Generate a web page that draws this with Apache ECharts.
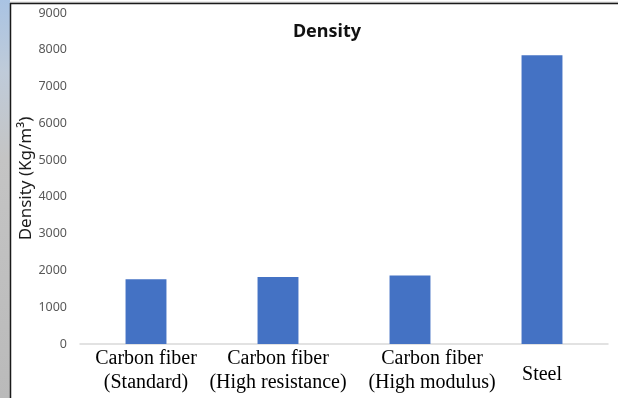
<!DOCTYPE html>
<html>
<head>
<meta charset="utf-8">
<script src="https://cdn.jsdelivr.net/npm/echarts@6/dist/echarts.min.js"></script>
<style>
  html, body { margin: 0; padding: 0; background: #ffffff; }
  #chart { width: 618px; height: 398px; }
</style>
</head>
<body>
<div id="chart"></div>
<script>
// Material categories (two-line labels) and their densities in kg/m³
const categories = [
  'Carbon fiber\n(Standard)',
  'Carbon fiber\n(High resistance)',
  'Carbon fiber\n(High modulus)',
  'Steel'
];
const densityValues = [1760, 1820, 1860, 7850];
const yTicks = { min: 0, max: 9000, interval: 1000 };

// Label styling per category: the third label sits a little to the right,
// the single-line label is vertically centred against the two-line ones.
const labelStyleKeys = ['n', 'n', 'shift', 'single'];

const chart = echarts.init(document.getElementById('chart'), null, { renderer: 'canvas' });

const serif = { fontFamily: 'Liberation Serif', fontSize: 20, color: '#000000' };

chart.setOption({
  animation: false,
  backgroundColor: '#ffffff',
  title: {
    text: 'Density',
    left: 322,
    top: 18,
    textAlign: 'center',
    textStyle: {
      fontFamily: 'Noto Sans',
      fontWeight: 'bold',
      fontSize: 18,
      color: '#111111'
    }
  },
  grid: {
    left: 80, right: 10, top: 13, bottom: 54,
    containLabel: false,
    outerBoundsMode: 'none'
  },
  xAxis: {
    type: 'category',
    data: categories,
    axisLine: { lineStyle: { color: '#d9d9d9', width: 1.5 } },
    axisTick: { show: false },
    axisLabel: {
      interval: 0,
      margin: 3,
      fontFamily: 'Liberation Serif',
      fontSize: 20,
      lineHeight: 24,
      color: '#000000',
      formatter: function (v, i) {
        const key = labelStyleKeys[i];
        return v.split('\n').map(function (line) {
          return '{' + key + '|' + line + '}';
        }).join('\n');
      },
      rich: {
        n: Object.assign({ lineHeight: 24 }, serif),
        shift: Object.assign({ lineHeight: 24, padding: [0, 0, 0, 44] }, serif),
        single: Object.assign({ lineHeight: 56 }, serif)
      }
    }
  },
  yAxis: {
    type: 'value',
    min: yTicks.min,
    max: yTicks.max,
    interval: yTicks.interval,
    name: 'Density (Kg/m³)',
    nameLocation: 'middle',
    nameRotate: 90,
    nameGap: 45,
    nameMoveOverlap: false,
    nameTextStyle: {
      fontFamily: 'Noto Sans',
      fontSize: 17,
      color: '#1a1a1a'
    },
    axisLine: { show: false },
    axisTick: { show: false },
    splitLine: { show: false },
    axisLabel: {
      margin: 13,
      fontFamily: 'Noto Sans',
      fontSize: 12.5,
      color: '#595959',
      formatter: function (v) { return String(v); }
    }
  },
  series: [{
    type: 'bar',
    data: densityValues,
    barWidth: '31%',
    itemStyle: { color: '#4472c4' }
  }],
  graphic: [
    {
      type: 'rect',
      left: 0, top: 0,
      shape: { width: 10, height: 398 },
      style: {
        fill: new echarts.graphic.LinearGradient(0, 0, 0, 1, [
          { offset: 0, color: '#a9c3e3' },
          { offset: 0.18, color: '#bfcbd9' },
          { offset: 0.4, color: '#c4c4c4' },
          { offset: 1, color: '#bababa' }
        ])
      },
      silent: true
    },
    {
      type: 'line',
      shape: { x1: 10.5, y1: 3, x2: 10.5, y2: 398 },
      style: { stroke: '#1a1a1a', lineWidth: 1.5 },
      silent: true
    },
    {
      type: 'line',
      shape: { x1: 10, y1: 3.5, x2: 618, y2: 3.5 },
      style: { stroke: '#1a1a1a', lineWidth: 1.5 },
      silent: true
    },
    {
      type: 'line',
      shape: { x1: 10, y1: 2.3, x2: 618, y2: 2.3 },
      style: { stroke: '#a0a0a0', lineWidth: 1 },
      silent: true
    }
  ]
});
</script>
</body>
</html>
